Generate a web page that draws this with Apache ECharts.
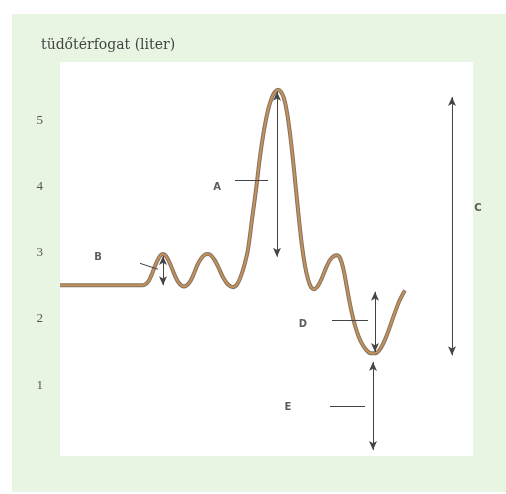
<!DOCTYPE html>
<html>
<head>
<meta charset="utf-8">
<script src="https://cdn.jsdelivr.net/npm/echarts@6/dist/echarts.min.js"></script>
<style>html,body{margin:0;padding:0;background:#fff;}#c{width:506px;height:494px;}</style>
</head>
<body>
<div id="c"></div>
<script>
// Lung volume curve (x: time units, y: litres)
var curveX = [0, 4, 8.3, 8.6, 8.9, 9.2, 9.5, 9.8, 10.05, 10.3, 10.55, 10.8, 11.1, 11.5, 11.9, 12.4, 12.9, 13.3, 13.7, 14.1, 14.5, 14.8, 15.1, 15.5, 15.9, 16.3, 16.8, 17.3, 17.7, 18.1, 18.5, 18.8, 19.2, 19.6, 20.0, 20.4, 20.8, 21.2, 21.5, 21.8, 22.1, 22.4, 22.7, 23.0, 23.3, 23.6, 23.9, 24.2, 24.5, 24.8, 25.1, 25.4, 25.8, 26.2, 26.6, 27.0, 27.4, 27.7, 28.0, 28.3, 28.6, 28.9, 29.2, 29.5, 29.9, 30.3, 30.7, 31.1, 31.5, 31.9, 32.3, 32.7, 33.1, 33.5, 33.9, 34.3, 34.5];
var curveY = [2.51, 2.51, 2.51, 2.53, 2.58, 2.68, 2.80, 2.90, 2.96, 2.98, 2.96, 2.90, 2.80, 2.65, 2.54, 2.49, 2.54, 2.65, 2.80, 2.91, 2.97, 2.98, 2.96, 2.88, 2.76, 2.63, 2.52, 2.48, 2.52, 2.65, 2.85, 3.05, 3.5, 3.95, 4.45, 4.85, 5.15, 5.35, 5.43, 5.46, 5.43, 5.33, 5.12, 4.8, 4.4, 3.95, 3.5, 3.1, 2.8, 2.6, 2.48, 2.45, 2.5, 2.62, 2.77, 2.89, 2.95, 2.96, 2.92, 2.78, 2.55, 2.3, 2.08, 1.9, 1.72, 1.6, 1.52, 1.48, 1.48, 1.52, 1.62, 1.76, 1.93, 2.1, 2.26, 2.38, 2.43];

// y tick labels
var yTicks = [1, 2, 3, 4, 5];

// double arrows: name, x, yTop, yBottom
var arrowNames = ['A', 'B', 'C', 'D', 'E'];
var arrowX = [21.7, 10.3, 39.2, 31.5, 31.3];
var arrowTop = [5.43, 2.95, 5.35, 2.41, 1.35];
var arrowBottom = [2.94, 2.51, 1.45, 1.5, 0.02];

// leader lines: x1, y1, x2, y2
var leaderX1 = [17.5, 8.0, 27.2, 27.0];
var leaderY1 = [4.1, 2.84, 1.98, 0.68];
var leaderX2 = [20.8, 9.8, 30.8, 30.5];
var leaderY2 = [4.1, 2.75, 1.98, 0.68];

// annotation labels
var labelNames = ['A', 'B', 'C', 'D', 'E'];
var labelX = [15.7, 3.8, 41.8, 24.3, 22.8];
var labelY = [3.99, 2.93, 3.67, 1.91, 0.67];

var titleText = 'tüdőtérfogat (liter)';

var curve = curveX.map(function (x, i) { return [x, curveY[i]]; });
var arrows = arrowX.map(function (x, i) {
  return [{ coord: [x, arrowTop[i]] }, { coord: [x, arrowBottom[i]] }];
});
var leaders = leaderX1.map(function (x, i) {
  return [{ coord: [x, leaderY1[i]] }, { coord: [leaderX2[i], leaderY2[i]] }];
});
var labels = labelNames.map(function (n, i) { return { name: n, value: [labelX[i], labelY[i]] }; });

var chart = echarts.init(document.getElementById('c'), null, { renderer: 'canvas' });
chart.setOption({
  animation: false,
  backgroundColor: '#ffffff',
  graphic: [{
    type: 'rect', left: 12, top: 14, z: -10,
    shape: { width: 494, height: 478 },
    style: { fill: '#e8f5e2' }
  }],
  title: {
    text: titleText, left: 36, top: 33,
    textStyle: { fontFamily: 'DejaVu Serif', fontSize: 14, fontWeight: 'normal', color: '#444' }
  },
  grid: { left: 60, right: 33, top: 62, bottom: 38, show: true, backgroundColor: '#ffffff', borderWidth: 0 },
  xAxis: { type: 'value', min: 0, max: 41.3, show: false },
  yAxis: {
    type: 'value', min: -0.07, max: 5.88,
    axisLine: { show: false }, axisTick: { show: false }, splitLine: { show: false },
    axisLabel: {
      customValues: yTicks, margin: 17,
      fontFamily: 'Liberation Serif', fontSize: 13, color: '#555'
    }
  },
  series: [
    {
      type: 'line', data: curve, smooth: 0.3, symbol: 'none', silent: true,
      lineStyle: { color: '#85735f', width: 4 }, z: 2
    },
    {
      type: 'line', data: curve, smooth: 0.3, symbol: 'none', silent: true,
      lineStyle: { color: '#c4905c', width: 2 }, z: 3
    },
    {
      type: 'line', data: [], silent: true, z: 5,
      markLine: {
        silent: true, symbol: ['arrow', 'arrow'], symbolSize: [6, 9],
        label: { show: false },
        lineStyle: { color: '#444', width: 1, type: 'solid' },
        emphasis: { disabled: true },
        data: arrows
      }
    },
    {
      type: 'line', data: [], silent: true, z: 5,
      markLine: {
        silent: true, symbol: ['none', 'none'],
        label: { show: false },
        lineStyle: { color: '#444', width: 1, type: 'solid' },
        emphasis: { disabled: true },
        data: leaders
      }
    },
    {
      type: 'scatter', data: labels, symbolSize: 0, clip: false, silent: true, z: 6,
      label: {
        show: true, position: 'inside', formatter: '{b}',
        fontFamily: 'DejaVu Sans', fontWeight: 'bold', fontSize: 10, color: '#333'
      }
    }
  ]
});
</script>
</body>
</html>
